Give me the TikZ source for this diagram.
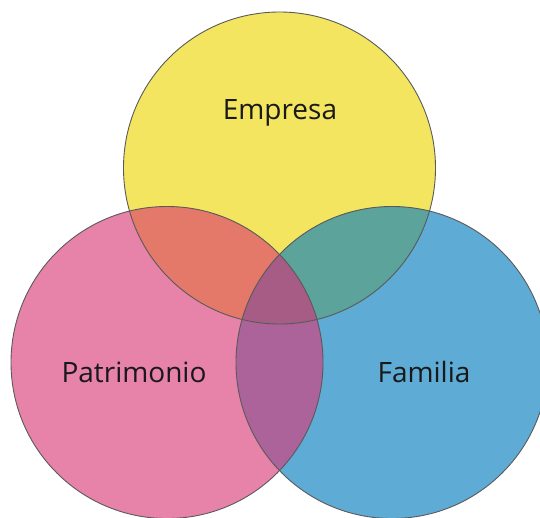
\documentclass[tikz,border=0pt]{standalone}
\usepackage{fontspec}
\setmainfont{Open Sans}
\definecolor{cY}{HTML}{F3E55F}
\definecolor{cP}{HTML}{E782A8}
\definecolor{cB}{HTML}{5EABD5}
\definecolor{cYP}{HTML}{E47869}
\definecolor{cYB}{HTML}{5BA39B}
\definecolor{cPB}{HTML}{AB6399}
\definecolor{cYPB}{HTML}{A65C84}
\definecolor{edge}{HTML}{5A5A5A}
\tikzset{
  ring/.style={draw=edge, line width=0.9pt},
  lbl/.style={font=\fontsize{28}{33}\selectfont, text=black!90, anchor=base, inner sep=0pt}
}
\begin{document}
\begin{tikzpicture}[x=1pt,y=-1pt]
\useasboundingbox (0,0) rectangle (540,517);
\begin{scope}
\clip (0,0) rectangle (540,517);
\def\Ycirc{(279.5,168) circle[radius=156]}
\def\Pcirc{(167,362.5) circle[radius=156]}
\def\Bcirc{(392,362.5) circle[radius=156]}
\fill[cY] \Ycirc;
\fill[cP] \Pcirc;
\fill[cB] \Bcirc;
\begin{scope}\clip \Ycirc; \fill[cYP] \Pcirc; \end{scope}
\begin{scope}\clip \Ycirc; \fill[cYB] \Bcirc; \end{scope}
\begin{scope}\clip \Pcirc; \fill[cPB] \Bcirc; \end{scope}
\begin{scope}\clip \Ycirc; \clip \Pcirc; \fill[cYPB] \Bcirc; \end{scope}
\draw[ring] \Ycirc;
\draw[ring] \Pcirc;
\draw[ring] \Bcirc;
\end{scope}
\node[lbl] (emp) at (280,119) {Empresa};
\node[lbl] (pat) at (134,382) {Patrimonio};
\node[lbl] (fam) at (424,382) {Familia};
\end{tikzpicture}
\end{document}
